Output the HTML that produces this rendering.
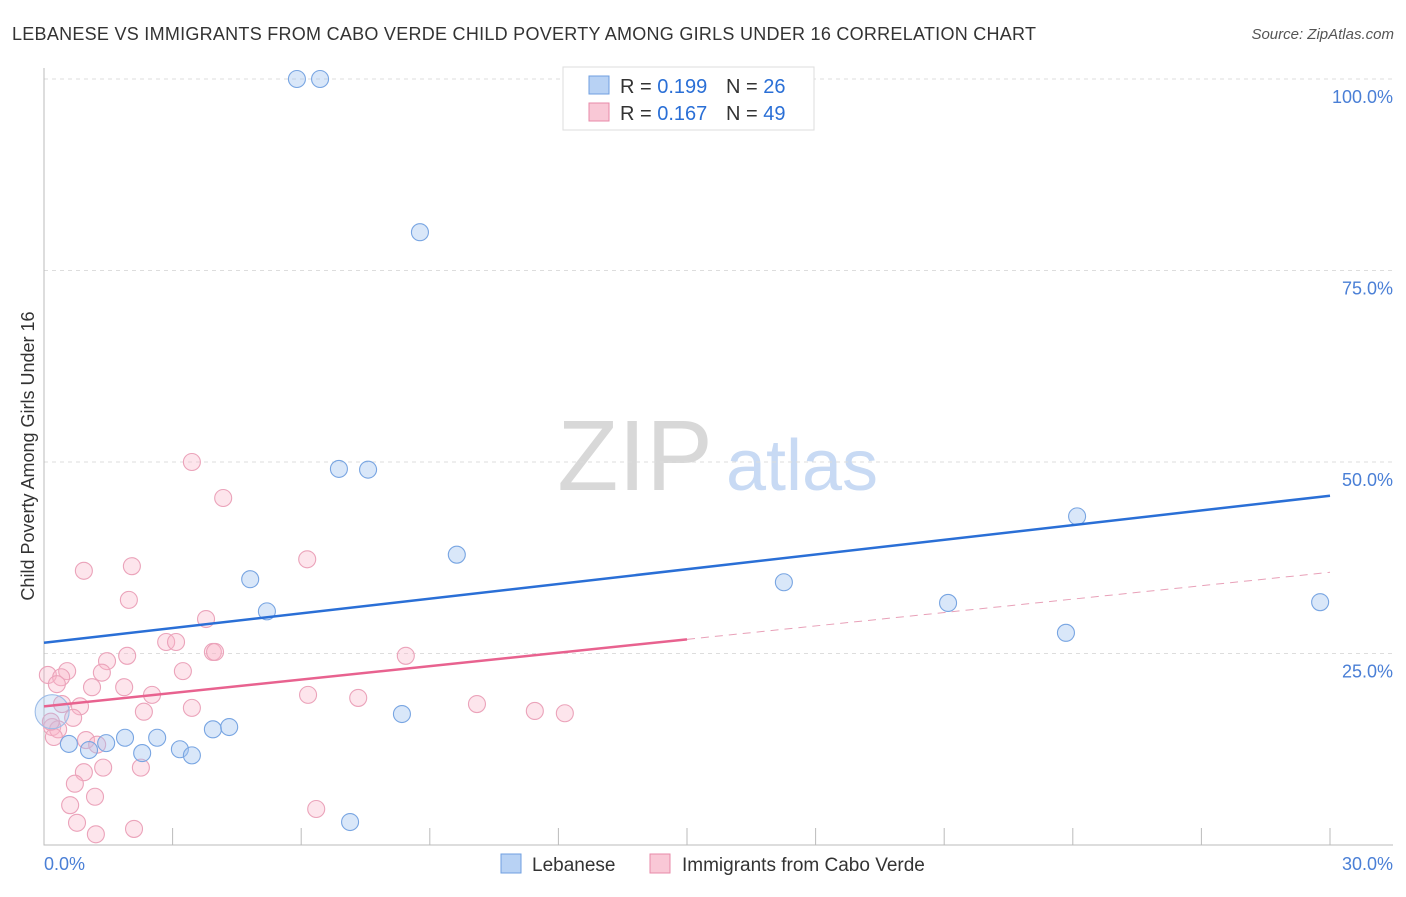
<!DOCTYPE html>
<html><head><meta charset="utf-8"><style>
body{margin:0;background:#fff;font-family:"Liberation Sans",sans-serif;}
svg text{font-family:"Liberation Sans",sans-serif;}
</style></head><body>
<svg id="c" width="1406" height="892">
<text x="12" y="40" font-size="18" fill="#333" textLength="1024">LEBANESE VS IMMIGRANTS FROM CABO VERDE CHILD POVERTY AMONG GIRLS UNDER 16 CORRELATION CHART</text>
<text x="1394" y="39" font-size="15" fill="#555" text-anchor="end" font-style="italic">Source: ZipAtlas.com</text>
<text x="34" y="456" font-size="18" fill="#333" text-anchor="middle" transform="rotate(-90 34 456)">Child Poverty Among Girls Under 16</text>
<g><text x="635" y="490" font-size="100" fill="#d8d8d8" text-anchor="middle" font-family="Liberation Serif">ZIP</text><text x="802" y="490" font-size="72" fill="#c8daf4" text-anchor="middle">atlas</text></g>
<g id="grid"></g><g id="marks"></g>
<g>
<rect x="563" y="67" width="251" height="63" fill="#fff" stroke="#ddd"/>
<rect x="589" y="76" width="20" height="18" fill="#b8d2f4" stroke="#6f9fe0"/>
<text x="620" y="93" font-size="20" fill="#333">R = <tspan fill="#2a6fd6">0.199</tspan></text>
<text x="726" y="93" font-size="20" fill="#333">N = <tspan fill="#2a6fd6">26</tspan></text>
<rect x="589" y="103" width="20" height="18" fill="#f9c8d6" stroke="#e88aa8"/>
<text x="620" y="120" font-size="20" fill="#333">R = <tspan fill="#2a6fd6">0.167</tspan></text>
<text x="726" y="120" font-size="20" fill="#333">N = <tspan fill="#2a6fd6">49</tspan></text>
</g>
<g>
<rect x="501" y="854" width="20" height="19" fill="#b8d2f4" stroke="#6f9fe0"/>
<text x="532" y="871" font-size="19" fill="#333">Lebanese</text>
<rect x="650" y="854" width="20" height="19" fill="#f9c8d6" stroke="#e88aa8"/>
<text x="682" y="871" font-size="19" fill="#333">Immigrants from Cabo Verde</text>
</g>
<text x="44" y="870" font-size="18" fill="#4a7fd6">0.0%</text>
<text x="1393" y="870" font-size="18" fill="#4a7fd6" text-anchor="end">30.0%</text>
</svg>
<script>
const yTicks=[25,50,75,100];
const yTickLabels=["25.0%","50.0%","75.0%","100.0%"];
const blueX=[5.90,6.44,8.77,6.88,7.56,9.63,4.81,5.20,24.10,17.26,21.09,23.84,29.77,8.35,0.58,1.05,1.45,1.89,2.29,2.64,3.17,3.45,3.94,4.32,7.14,0.19];
const blueY=[100,100,80.0,49.1,49.0,37.9,34.7,30.5,42.9,34.3,31.6,27.7,31.7,17.1,13.2,12.4,13.3,14.0,12.0,14.0,12.5,11.7,15.1,15.4,3.0,17.4];
const pinkX=[3.45,4.18,0.93,2.05,1.98,6.14,3.78,2.85,3.08,3.94,3.99,1.94,8.44,0.09,0.54,0.40,0.30,1.47,1.35,1.12,1.87,3.24,2.52,6.16,7.33,3.45,2.33,10.10,11.45,12.15,0.84,0.68,0.42,0.19,0.33,0.23,0.98,1.24,0.93,1.38,2.26,0.72,0.61,1.19,0.77,1.21,2.10,6.35,0.16];
const pinkY=[50.0,45.3,35.8,36.4,32.0,37.3,29.5,26.5,26.5,25.2,25.2,24.7,24.7,22.2,22.7,21.9,21.0,24.0,22.5,20.6,20.6,22.7,19.6,19.6,19.2,17.9,17.4,18.4,17.5,17.2,18.1,16.6,18.4,15.4,15.1,14.1,13.7,13.1,9.5,10.1,10.1,8.0,5.2,6.3,2.9,1.4,2.1,4.7,16.1];
const blueTrend=[26.4,45.6];
const pinkTrend=[18.1,35.6];
const X=v=>44+v/30*1286, Y=v=>845-v/100*766;
const NS="http://www.w3.org/2000/svg";
const g=document.getElementById('grid'), m=document.getElementById('marks');
function mk(p,t,a){const e=document.createElementNS(NS,t);for(const k in a)e.setAttribute(k,a[k]);p.appendChild(e);return e;}
yTicks.forEach((t,i)=>{
 const l=mk(g,'line',{x1:44,x2:1393,y1:Y(t),y2:Y(t),stroke:'#ddd','stroke-dasharray':'4,4'});
 
 
 const tx=mk(g,'text',{x:1393,y:Y(t)+24,'font-size':18,fill:'#4a7fd6','text-anchor':'end'});
 tx.textContent=yTickLabels[i];
 
 
});
const ax=mk(g,'path',{d:'M44 68V845H1393',fill:'none',stroke:'#bbb'});


for(let i=1;i<=10;i++){const t=mk(g,'line',{x1:X(i*3),x2:X(i*3),y1:828,y2:845,stroke:'#bbb'});
 
 }
function dots(xs,ys,fill,stroke,name){xs.forEach((x,i)=>{
 const big=(name==='lebanese-point'&&i===xs.length-1);
 const c=mk(m,'circle',{cx:X(x),cy:Y(ys[i]),r:big?17:8.5,fill:big?'rgba(160,196,240,0.3)':fill,stroke:big?'#9dbde8':stroke,'stroke-width':1.1});
 
 });}
dots(pinkX,pinkY,'rgba(248,180,200,0.35)','#eba3ba','cabo-verde-point');
dots(blueX,blueY,'rgba(160,196,240,0.4)','#78a5e2','lebanese-point');
let l=mk(m,'line',{x1:X(0),y1:Y(blueTrend[0]),x2:X(30),y2:Y(blueTrend[1]),stroke:'#2a6fd6','stroke-width':2.5});


const pm=pinkTrend[0]+(pinkTrend[1]-pinkTrend[0])/2;
l=mk(m,'line',{x1:X(0),y1:Y(pinkTrend[0]),x2:X(15),y2:Y(pm),stroke:'#e8628f','stroke-width':2.5});


l=mk(m,'line',{x1:X(15),y1:Y(pm),x2:X(30),y2:Y(pinkTrend[1]),stroke:'#e8a0b8','stroke-width':1,'stroke-dasharray':'8,6'});


</script>
</body></html>
